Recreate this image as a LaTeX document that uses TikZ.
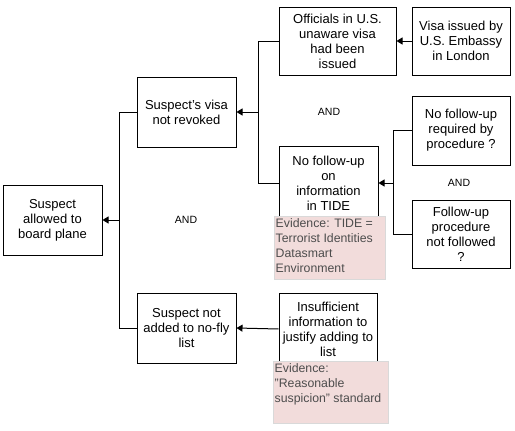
\documentclass[tikz,border=0pt]{standalone}
\usepackage{fontspec}
\setmainfont{Liberation Sans}
\usetikzlibrary{arrows.meta}
\definecolor{evfill}{HTML}{F2DCDB}
\definecolor{evdraw}{HTML}{D9D9D9}
\definecolor{evtext}{HTML}{4D4D4D}
\begin{document}
\begin{tikzpicture}[x=1pt,y=-1pt,
  box/.style={draw=black,line width=1pt,fill=white,align=center,inner sep=0pt,
    font=\fontsize{13}{15}\selectfont},
  evbox/.style={draw=evdraw,line width=0.9pt,fill=evfill,align=left,inner sep=0pt,
    anchor=north west,text=evtext,font=\fontsize{12}{15}\selectfont},
  evtxt/.style={anchor=north west,inner sep=0pt,align=left,text=evtext,
    font=\fontsize{12.3}{15}\selectfont},
  andlbl/.style={font=\fontsize{10.5}{12}\selectfont,inner sep=0pt},
  conn/.style={line width=1pt},
  arr/.style={line width=1pt,-{Triangle[length=6pt,width=7pt]}}]
\useasboundingbox (0,0) rectangle (515,431);
% boxes
\node[box,minimum width=99pt,minimum height=70pt] (board) at (52.5,220) {Suspect\\allowed to\\board plane};
\node[box,minimum width=99pt,minimum height=70pt] (visa) at (186.5,112) {Suspect's visa\\not revoked};
\node[box,minimum width=99pt,minimum height=70pt] (nofly) at (186.5,328) {Suspect not\\added to no-fly\\list};
\node[box,minimum width=117pt,minimum height=68pt] (officials) at (337.5,41) {Officials in U.S.\\unaware visa\\had been\\issued};
\node[box,minimum width=98pt,minimum height=68pt] (embassy) at (461,41) {Visa issued by\\U.S. Embassy\\in London};
\node[box,minimum width=99pt,minimum height=74pt] (tide) at (328.5,183) {No follow-up\\on\\information\\in TIDE};
\node[box,minimum width=98pt,minimum height=69pt] (required) at (461,130.5) {No follow-up\\required by\\procedure ?};
\node[box,minimum width=98pt,minimum height=68pt] (notfollowed) at (461,234) {Follow-up\\procedure\\not followed\\?};
\node[box,minimum width=98pt,minimum height=72pt] (insufficient) at (328,329) {Insufficient\\information to\\justify adding to\\list};
% evidence boxes
\node[evbox,minimum width=111pt,minimum height=63pt] (ev1) at (274,216) {};
\node[evtxt] (ev1t) at (275.5,218) {Evidence: TIDE =\\Terrorist Identities\\Datasmart\\Environment};
\node[evbox,minimum width=115pt,minimum height=62pt] (ev2) at (273,361) {};
\node[evtxt] (ev2t) at (274.5,363) {Evidence:\\"Reasonable\\suspicion" standard};
% AND labels
\node[andlbl] (and1) at (186,220) {AND};
\node[andlbl] (and2) at (329,112) {AND};
\node[andlbl] (and3) at (459,183) {AND};
% junctions
\coordinate (j1) at (258,112);
\coordinate (j2) at (393,183);
\coordinate (j3) at (119,220);
% connectors
\draw[arr] (embassy.west) -- (officials.east);
\draw[conn] (officials.west) -| (j1);
\draw[conn] (tide.west) -| (j1);
\draw[arr] (j1) -- (visa.east);
\draw[conn] (required.west) -| (j2);
\draw[conn] (notfollowed.west) -| (j2);
\draw[arr] (j2) -- (tide.east);
\draw[conn] (visa.west) -| (j3);
\draw[conn] (nofly.west) -| (j3);
\draw[arr] (j3) -- (board.east);
\draw[arr] (insufficient.west) -- (nofly.east);
\end{tikzpicture}
\end{document}
